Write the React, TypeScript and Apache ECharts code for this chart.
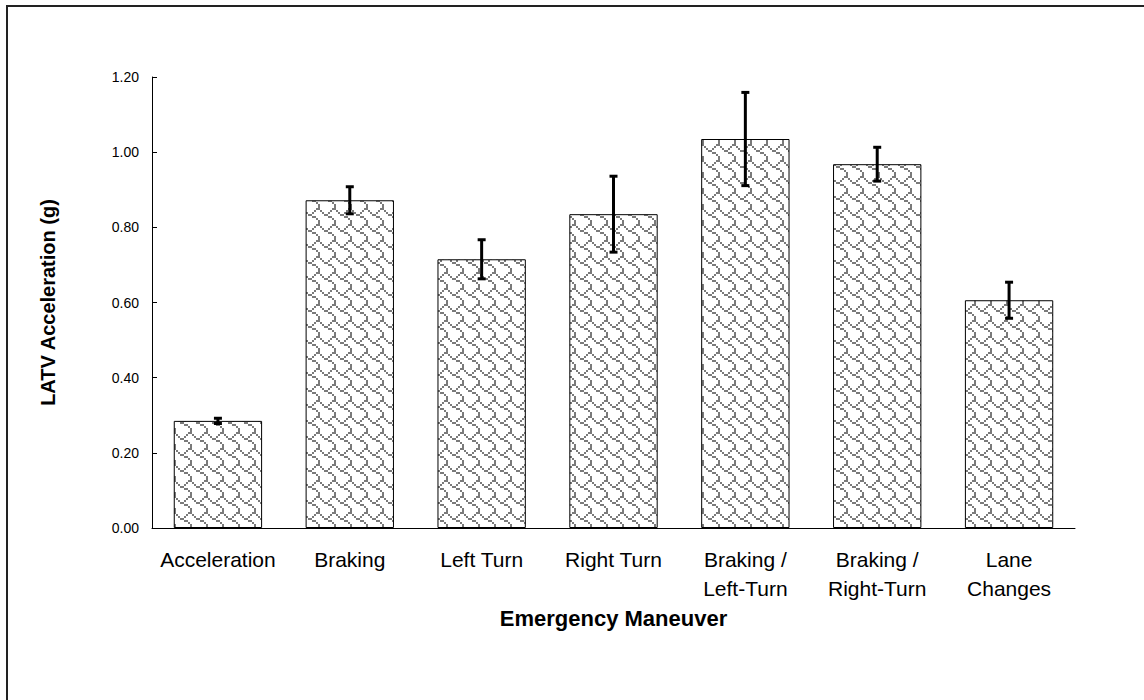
import React, { useEffect, useRef } from "react";
import * as echarts from "echarts";

const categories = [
  "Acceleration",
  "Braking",
  "Left Turn",
  "Right Turn",
  "Braking /\nLeft-Turn",
  "Braking /\nRight-Turn",
  "Lane\nChanges",
];
const means = [0.285, 0.872, 0.715, 0.835, 1.035, 0.968, 0.606];
const errors = [0.007, 0.036, 0.052, 0.101, 0.124, 0.045, 0.048];
const yTicks = [0, 0.2, 0.4, 0.6, 0.8, 1.0, 1.2];

const SHINGLE = [0x03, 0x84, 0x48, 0x30, 0x0c, 0x02, 0x01, 0x01];

function makePattern(): HTMLCanvasElement {
  const scale = 2;
  const c = document.createElement("canvas");
  c.width = 8 * scale;
  c.height = 8 * scale;
  const ctx = c.getContext("2d")!;
  ctx.fillStyle = "#ffffff";
  ctx.fillRect(0, 0, c.width, c.height);
  ctx.fillStyle = "#7a7a7a";
  for (let y = 0; y < 8; y++) {
    for (let x = 0; x < 8; x++) {
      if (SHINGLE[y] & (0x80 >> x)) {
        ctx.fillRect(x * scale, y * scale, scale, scale);
      }
    }
  }
  return c;
}

export default function App() {
  const ref = useRef<HTMLDivElement>(null);
  useEffect(() => {
    if (!ref.current) return;
    const chart = echarts.init(ref.current, undefined, { renderer: "svg" });
    const pattern = makePattern();
    const font = "Liberation Sans, Arial, sans-serif";
    chart.setOption({
      animation: false,
      backgroundColor: "#ffffff",
      grid: { left: 152, right: 69, top: 77, bottom: 172, containLabel: false },
      graphic: [
        {
          type: "rect",
          shape: { x: 7, y: 6, width: 1160, height: 720 },
          style: { fill: "none", stroke: "#222222", lineWidth: 2 },
          silent: true,
        },
      ],
      xAxis: {
        type: "category",
        data: categories,
        name: "Emergency Maneuver",
        nameLocation: "middle",
        nameGap: 65,
        nameTextStyle: { fontFamily: font, fontWeight: "bold", fontSize: 22, color: "#000" },
        axisLine: { lineStyle: { color: "#000", width: 1 } },
        axisTick: { inside: true, length: 7, lineStyle: { color: "#000" } },
        axisLabel: {
          fontFamily: font,
          fontSize: 21,
          color: "#000",
          margin: 17,
          lineHeight: 29,
          interval: 0,
        },
      },
      yAxis: {
        type: "value",
        min: 0,
        max: 1.2,
        interval: 0.2,
        name: "LATV Acceleration (g)",
        nameLocation: "middle",
        nameGap: 94,
        nameRotate: 90,
        nameTextStyle: { fontFamily: font, fontWeight: "bold", fontSize: 20, color: "#000" },
        axisLine: { show: true, lineStyle: { color: "#000", width: 1 } },
        axisTick: { show: true, inside: true, length: 5, lineStyle: { color: "#000" } },
        splitLine: { show: false },
        axisLabel: {
          fontFamily: font,
          fontSize: 14,
          color: "#000",
          margin: 13,
          formatter: (v: number) => (yTicks.includes(Math.round(v * 10) / 10) ? v.toFixed(2) : ""),
        },
      },
      series: [
        {
          type: "bar",
          data: means,
          barCategoryGap: "33%",
          itemStyle: {
            color: { image: pattern, repeat: "repeat" },
            borderColor: "#000",
            borderWidth: 1,
          },
        },
        {
          type: "custom",
          data: means.map((m, i) => [i, m - errors[i], m + errors[i]]),
          renderItem: (params: any, api: any) => {
            const x = api.value(0);
            const lo = api.coord([x, api.value(1)]);
            const hi = api.coord([x, api.value(2)]);
            const cap = 4;
            const style = { stroke: "#000", lineWidth: 3 };
            return {
              type: "group",
              children: [
                { type: "line", shape: { x1: lo[0], y1: lo[1], x2: hi[0], y2: hi[1] }, style },
                { type: "line", shape: { x1: lo[0] - cap, y1: lo[1], x2: lo[0] + cap, y2: lo[1] }, style },
                { type: "line", shape: { x1: hi[0] - cap, y1: hi[1], x2: hi[0] + cap, y2: hi[1] }, style },
              ],
            };
          },
          z: 5,
        },
      ],
    });
    return () => chart.dispose();
  }, []);
  return (
    <div
      ref={ref}
      style={{ position: "absolute", left: 0, top: 0, width: 1144, height: 700 }}
    />
  );
}
